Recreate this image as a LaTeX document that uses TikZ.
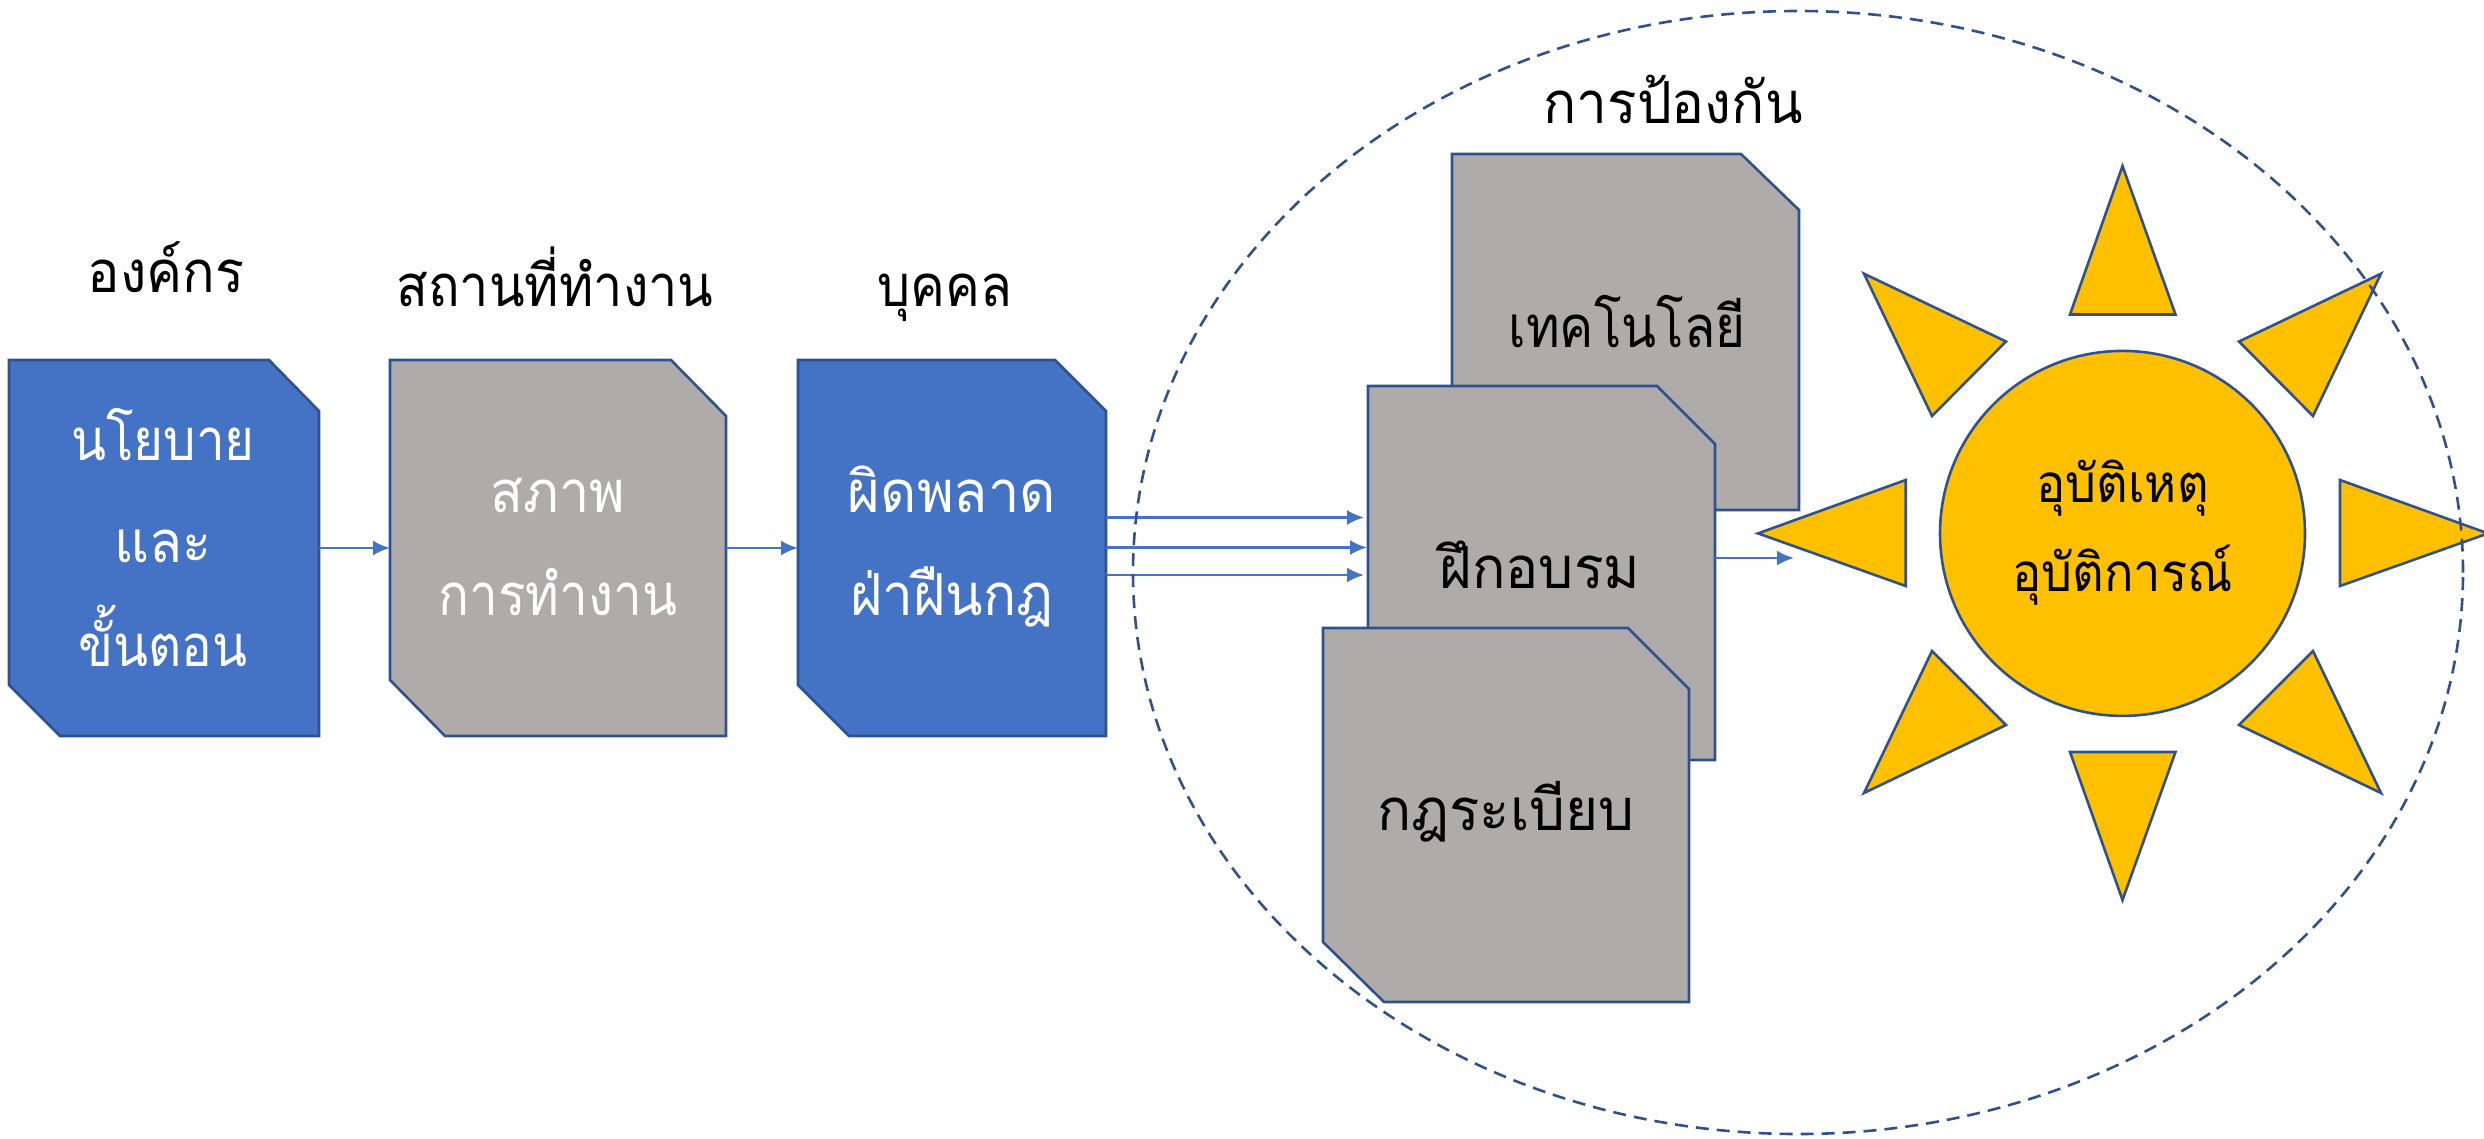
\documentclass[tikz,border=0pt]{standalone}
\usepackage{fontspec}
\newfontfamily\thaifont[Script=Thai,FakeStretch=0.92]{Loma}
\usetikzlibrary{arrows.meta,shapes.geometric}
\definecolor{edgeblue}{HTML}{2F528F}
\definecolor{fillblue}{HTML}{4472C4}
\definecolor{fillgray}{HTML}{AFABAB}
\definecolor{fillgold}{HTML}{FFC000}
\newcommand\sx[2]{\scalebox{#1}[1]{#2}}
\tikzset{
  x=1pt,y=-1pt,
  shapeline/.style={draw=edgeblue,line width=2.6pt,line join=miter},
  bluebox/.style={shapeline,fill=fillblue},
  graybox/.style={shapeline,fill=fillgray},
  ray/.style={shapeline,fill=fillgold},
  anchorbox/.style={inner sep=0pt,outer sep=0pt},
  flow/.style={draw=fillblue,line width=2.4pt,-{Latex[length=17pt,width=15pt]}},
  txt/.style={font=\thaifont\fontsize{58}{70}\selectfont,anchor=base,inner sep=0pt},
  txts/.style={font=\thaifont\fontsize{53}{60}\selectfont,anchor=base,inner sep=0pt},
  wtxt/.style={txt,text=white},
}
\begin{document}
\begin{tikzpicture}
\useasboundingbox (0,0) rectangle (2484,1138);
% upper labels
\node[txt] (t1) at (166,292) {\sx{1.012}{องค์กร}};
\node[txt] (t2) at (555,306) {\sx{.978}{สถานที่ทำงาน}};
\node[txt] (t3) at (945,306) {\sx{.977}{บุคคล}};
\node[txt] (t4) at (1673,123) {\sx{1.03}{การป้องกัน}};
% left chain
\draw[bluebox] (9,360) -- (269,360) -- (319,411) -- (319,736) -- (60,736) -- (9,685) -- cycle;
\node[anchorbox,minimum width=310pt,minimum height=376pt] (n1) at (164,548) {};
\node[wtxt] (l1a) at (163,460) {\sx{.96}{นโยบาย}};
\node[wtxt] (l1b) at (163,562) {\sx{1.012}{และ}};
\node[wtxt] (l1c) at (163,666) {\sx{.96}{ขั้นตอน}};
\draw[graybox] (390,360) -- (671,360) -- (726,416) -- (726,736) -- (445,736) -- (390,680) -- cycle;
\node[anchorbox,minimum width=336pt,minimum height=376pt] (n2) at (558,548) {};
\node[wtxt] (l2a) at (558,512) {\sx{1.012}{สภาพ}};
\node[wtxt] (l2b) at (558,615) {\sx{.96}{การทำงาน}};
\draw[bluebox] (798,360) -- (1055,360) -- (1106,411) -- (1106,736) -- (849,736) -- (798,685) -- cycle;
\node[anchorbox,minimum width=308pt,minimum height=376pt] (n3) at (952,548) {};
\node[wtxt] (l3a) at (952,512) {\sx{1.05}{ผิดพลาด}};
\node[wtxt] (l3b) at (952,615) {\sx{1.03}{ฝ่าฝืนกฎ}};
% prevention stack
\draw[graybox] (1452,154) -- (1741,154) -- (1799,210) -- (1799,510) -- (1452,510) -- cycle;
\node[anchorbox,minimum width=347pt,minimum height=356pt] (n4) at (1625.5,332) {};
\node[txt] (l4) at (1627,347) {\sx{.96}{เทคโนโลยี}};
\draw[graybox] (1368,386) -- (1657,386) -- (1715,444) -- (1715,760) -- (1368,760) -- cycle;
\node[anchorbox,minimum width=347pt,minimum height=374pt] (n5) at (1541.5,573) {};
\node[txt] (l5) at (1540,588) {\sx{1.037}{ฝึกอบรม}};
\draw[graybox] (1323,628) -- (1628,628) -- (1689,689) -- (1689,1002) -- (1384,1002) -- (1323,942) -- cycle;
\node[anchorbox,minimum width=366pt,minimum height=374pt] (n6) at (1506,815) {};
\node[txt] (l6) at (1506,830) {\sx{1.06}{กฎระเบียบ}};
% connectors
\draw[flow] (n1.east) -- (n2.west);
\draw[flow] (n2.east) -- (n3.west);
\coordinate (c1) at (1364,517.5);
\coordinate (c2) at (1367,547.5);
\coordinate (c3) at (1364,575);
\coordinate (c4) at (1794,558);
\draw[flow] (n3.east |- c1) -- (c1);
\draw[flow] (n3.east |- c2) -- (c2);
\draw[flow] (n3.east |- c3) -- (c3);
% sun
\draw[ray] (2122.5,166) -- (2175.5,314.5) -- (2070,314.5) -- cycle;
\draw[ray] (2122.5,900) -- (2175.5,752) -- (2070,752) -- cycle;
\draw[ray] (1758,533.4) -- (1905.7,480) -- (1905.7,586) -- cycle;
\draw[ray] (2488,533.4) -- (2340,480) -- (2340,586) -- cycle;
\draw[ray] (1864,273.7) -- (2006,341.5) -- (1932,416) -- cycle;
\draw[ray] (2381,273.7) -- (2239,341.5) -- (2313,416) -- cycle;
\draw[ray] (1864,793) -- (2006,725) -- (1932,651) -- cycle;
\draw[ray] (2381,793) -- (2239,725) -- (2313,651) -- cycle;
\draw[flow] (n5.east |- c4) -- (c4);
\node[circle,shapeline,fill=fillgold,minimum size=365pt,inner sep=0pt] (sun) at (2122.5,533.4) {};
\node[txts] (l7a) at (2122.5,502) {อุบัติเหตุ};
\node[txts] (l7b) at (2122.5,591) {อุบัติการณ์};
% dashed ellipse
\node[ellipse,draw=edgeblue,line width=2.6pt,dash pattern=on 13pt off 8pt,minimum width=1330pt,minimum height=1123pt,inner sep=0pt] (zone) at (1798,572.5) {};
\end{tikzpicture}
\end{document}
